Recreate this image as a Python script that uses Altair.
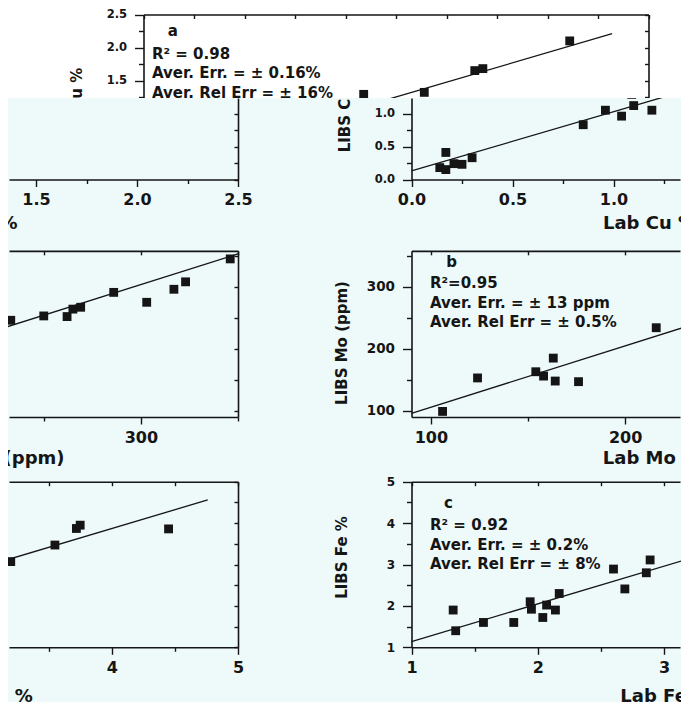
import altair as alt
import pandas as pd

# ---------------- values ----------------
# panel a : Cu
cu_lab = [0.14, 0.17, 0.17, 0.21, 0.25, 0.30, 0.85, 0.96, 1.04, 1.09, 1.10, 1.19, 1.39, 1.64, 1.68, 2.11]
cu_libs = [0.18, 0.41, 0.15, 0.24, 0.23, 0.33, 0.83, 1.05, 0.96, 1.29, 1.12, 1.05, 1.32, 1.65, 1.68, 2.10]
cu_fit_x = [0.0, 2.32]
cu_fit_y = [0.13, 2.21]

# panel b : Mo
mo_lab = [106, 124, 154, 158, 163, 164, 176, 216, 233, 250, 262, 265, 269, 286, 303, 317, 323, 346]
mo_libs = [99, 153, 163, 156, 185, 148, 147, 234, 246, 253, 252, 264, 267, 291, 275, 296, 308, 345]
mo_fit_x = [90, 350]
mo_fit_y = [96, 353]

# panel c : Fe
fe_lab = [1.33, 1.35, 1.57, 1.81, 1.94, 1.95, 2.04, 2.07, 2.14, 2.17, 2.60, 2.69, 2.86, 2.89, 3.20, 3.55, 3.72, 3.75, 4.45]
fe_libs = [1.90, 1.40, 1.60, 1.60, 2.10, 1.92, 1.72, 2.02, 1.90, 2.30, 2.89, 2.41, 2.80, 3.11, 3.07, 3.47, 3.87, 3.95, 3.86]
fe_fit_x = [1.0, 4.76]
fe_fit_y = [1.14, 4.56]

# tick labels
cu_major = [0.0, 0.5, 1.0, 1.5, 2.0, 2.5]
cu_minor = [0.25, 0.75, 1.25, 1.75, 2.25]
mo_major = [100, 200, 300]
mo_minor = [150, 250, 350]
fe_major = [1, 2, 3, 4, 5]
fe_minor = [1.5, 2.5, 3.5, 4.5]

# texts
letters = ["a", "b", "c"]
stats_a = ["R² = 0.98", "Aver. Err. = ± 0.16%", "Aver. Rel Err = ± 16%"]
stats_b = ["R²=0.95", "Aver. Err. = ± 13 ppm", "Aver. Rel Err = ± 0.5%"]
stats_c = ["R² = 0.92", "Aver. Err. = ± 0.2%", "Aver. Rel Err = ± 8%"]
x_titles = ["Lab Cu %", "Lab Mo (ppm)", "Lab Fe %"]
y_titles = ["LIBS Cu %", "LIBS Mo (ppm)", "LIBS Fe %"]

# ---------------- layout / style ----------------
FONT = "DejaVu Sans"
CYAN = "#eefafa"
INK = "#151515"
W = 673
TOP_H = 90
BOT_H = 604
X_MIN, X_MAX = 1.0, 672.0
TIN = 4  # inward tick length
NOTE_FS, XT_FS, YT_FS = 15, 18, 15

# geometry of the original figure panels (pixels per unit, baseline)
PANELS = [
    dict(lab=cu_lab, libs=cu_libs, fx=cu_fit_x, fy=cu_fit_y,
         xdom=(0.0, 2.5), ydom=(0.0, 2.5), kx=202.0, ky=66.0, ybase=179.5,
         xmaj=cu_major, xmin=cu_minor, ymaj=cu_major, ymin=cu_minor, fmt=".1f", ylab=11.5,
         letter=(letters[0], 0.12, 2.25), stats=stats_a, stx=0.042, sty=[1.90, 1.614, 1.318],
         xt=(x_titles[0], 1.178, -0.674), yt=(y_titles[0], -0.327, 1.053)),
    dict(lab=mo_lab, libs=mo_libs, fx=mo_fit_x, fy=mo_fit_y,
         xdom=(90.0, 350.0), ydom=(90.0, 358.0), kx=505.0 / 260.0, ky=0.62, ybase=417.0,
         xmaj=mo_major, xmin=mo_minor, ymaj=mo_major, ymin=mo_minor, fmt="d", ylab=13.5,
         letter=(letters[1], 107.9, 340.5), stats=stats_b, stx=99.5, sty=[305.6, 274.4, 243.7],
         xt=(x_titles[1], 224.6, 22.3), yt=(y_titles[1], 54.0, 209.4)),
    dict(lab=fe_lab, libs=fe_libs, fx=fe_fit_x, fy=fe_fit_y,
         xdom=(1.0, 5.0), ydom=(1.0, 5.0), kx=126.25, ky=41.4, ybase=647.3,
         xmaj=fe_major, xmin=fe_minor, ymaj=fe_major, ymin=fe_minor, fmt="d", ylab=12,
         letter=(letters[2], 1.257, 4.478), stats=stats_c, stx=1.1465, sty=[3.954, 3.471, 3.012],
         xt=(x_titles[2], 3.014, -0.20), yt=(y_titles[2], 0.446, 3.169)),
]


def tick_vals(vals, lo, hi):
    return sorted(v for v in vals if lo - 1e-6 <= v <= hi + 1e-6)


def visible_rows(rows, px, py, view_h, fs, align, rotated=False):
    """Keep only texts whose (approximate) box reaches into the view."""
    kept = []
    for r in rows:
        x, y = px(r[0]), py(r[1])
        w = len(r[2]) * 0.62 * fs
        h = fs
        if rotated:
            w, h = h, w
        if align == "left":
            x1, x2 = x, x + w
        else:
            x1, x2 = x - w / 2, x + w / 2
        y1, y2 = y - h / 2, y + h / 2
        if x2 > 0 and x1 < W and y2 > 0 and y1 < view_h:
            kept.append(r)
    return kept


def panel_copy(p, box_left_sx, view_top_sy, view_h):
    kx, ky = p["kx"], p["ky"]
    x0, x1 = p["xdom"]
    y0, y1 = p["ydom"]
    left = box_left_sx - 8.0
    right = left + (x1 - x0) * kx
    bottom = p["ybase"] - view_top_sy
    top = bottom - (y1 - y0) * ky
    vl, vr = max(left, X_MIN), min(right, X_MAX)
    vt, vb = max(top, 0.0), min(bottom, float(view_h))
    if vr - vl < 2 or vb - vt < 2:
        return None
    x_lo = x0 + (vl - left) / kx
    x_hi = x0 + (vr - left) / kx
    y_lo = y0 + (bottom - vb) / ky
    y_hi = y0 + (bottom - vt) / ky

    def px(v):
        return left + (v - x0) * kx

    def py(v):
        return bottom - (v - y0) * ky

    xs = alt.Scale(domain=[x_lo, x_hi], range=[vl, vr], nice=False, zero=False)
    ys = alt.Scale(domain=[y_lo, y_hi], range=[vb, vt], nice=False, zero=False)
    x_major = tick_vals(p["xmaj"], x_lo, x_hi)
    x_minor = tick_vals(p["xmin"], x_lo, x_hi)
    y_major = tick_vals(p["ymaj"], y_lo, y_hi)
    y_minor = tick_vals(p["ymin"], y_lo, y_hi)
    x_all = sorted(x_major + x_minor)
    y_all = sorted(y_major + y_minor)

    show_left = left >= X_MIN - 0.01
    show_right = right <= X_MAX + 0.01
    show_top = top >= -0.01
    show_bottom = bottom <= view_h + 0.01

    common = dict(title=None, labelOverlap=False, labelFlush=False)
    bottom_axis = alt.Axis(orient="bottom", offset=bottom - view_h, values=x_major, format=p["fmt"],
                           tickSize=7, labelFontSize=16, labelPadding=5, **common) if show_bottom else None
    bottom_minor = alt.Axis(orient="bottom", offset=bottom - view_h, values=x_minor, tickSize=4,
                            labels=False, domain=False, title=None) if (show_bottom and x_minor) else None
    left_axis = alt.Axis(orient="left", offset=-left, values=y_major, format=p["fmt"],
                         tickSize=9, labelFontSize=p["ylab"], labelPadding=8, **common) if show_left else None
    left_minor = alt.Axis(orient="left", offset=-left, values=y_minor, tickSize=5,
                          labels=False, domain=False, title=None) if (show_left and y_minor) else None
    top_spine = alt.Axis(orient="top", offset=-top, ticks=False, labels=False, domain=True,
                         title=None) if show_top else None
    top_ticks = alt.Axis(orient="top", offset=-(top + TIN), values=x_all, ticks=True, tickSize=TIN,
                         labels=False, domain=False, title=None) if show_top else None
    right_spine = alt.Axis(orient="right", offset=right - W, ticks=False, labels=False, domain=True,
                           title=None) if show_right else None
    right_ticks = alt.Axis(orient="right", offset=right - TIN - W, values=y_all, ticks=True, tickSize=TIN,
                           labels=False, domain=False, title=None) if show_right else None

    pts_df = pd.DataFrame({"lab": p["lab"], "libs": p["libs"]})
    fit_df = pd.DataFrame({"fx": p["fx"], "fy": p["fy"]})

    note_rows = [(p["letter"][1], p["letter"][2], p["letter"][0])] + \
        [(p["stx"], yy, s) for yy, s in zip(p["sty"], p["stats"])]
    note_rows = visible_rows(note_rows, px, py, view_h, NOTE_FS, "left")
    xt_rows = visible_rows([(p["xt"][1], p["xt"][2], p["xt"][0])], px, py, view_h, XT_FS, "center")
    yt_rows = visible_rows([(p["yt"][1], p["yt"][2], p["yt"][0])], px, py, view_h, YT_FS, "center",
                           rotated=True)

    def tdf(rows):
        return pd.DataFrame({"tx": [r[0] for r in rows], "ty": [r[1] for r in rows],
                             "t": [r[2] for r in rows]})

    pts = alt.Chart(pts_df).mark_square(size=78, color=INK, opacity=1, clip=True).encode(
        x=alt.X("lab:Q", scale=xs, axis=bottom_axis),
        y=alt.Y("libs:Q", scale=ys, axis=left_axis),
    )
    fit = alt.Chart(fit_df).mark_line(color=INK, strokeWidth=1.3, clip=True).encode(
        x=alt.X("fx:Q", scale=xs, axis=top_spine),
        y=alt.Y("fy:Q", scale=ys, axis=right_spine),
    )
    # invisible copies of the fit layer that only carry the extra tick axes
    ghost_in = alt.Chart(fit_df).mark_line(opacity=0, clip=True).encode(
        x=alt.X("fx:Q", scale=xs, axis=top_ticks),
        y=alt.Y("fy:Q", scale=ys, axis=right_ticks),
    )
    ghost_minor = alt.Chart(fit_df).mark_line(opacity=0, clip=True).encode(
        x=alt.X("fx:Q", scale=xs, axis=bottom_minor),
        y=alt.Y("fy:Q", scale=ys, axis=left_minor),
    )
    layers = [pts, fit, ghost_in, ghost_minor]
    if note_rows:
        layers.append(alt.Chart(tdf(note_rows)).mark_text(
            align="left", baseline="middle", font=FONT, fontWeight="bold",
            fontSize=NOTE_FS, color=INK, clip=True).encode(
            x=alt.X("tx:Q", scale=xs, axis=None),
            y=alt.Y("ty:Q", scale=ys, axis=None),
            text="t:N"))
    if xt_rows:
        layers.append(alt.Chart(tdf(xt_rows)).mark_text(
            align="center", baseline="middle", font=FONT, fontWeight="bold",
            fontSize=XT_FS, color=INK, clip=True).encode(
            x=alt.X("tx:Q", scale=xs, axis=None),
            y=alt.Y("ty:Q", scale=ys, axis=None),
            text="t:N"))
    if yt_rows:
        layers.append(alt.Chart(tdf(yt_rows)).mark_text(
            align="center", baseline="middle", angle=270, font=FONT, fontWeight="bold",
            fontSize=YT_FS, color=INK, clip=True).encode(
            x=alt.X("tx:Q", scale=xs, axis=None),
            y=alt.Y("ty:Q", scale=ys, axis=None),
            text="t:N"))
    return alt.layer(*layers).resolve_axis(x="independent", y="independent")


def view(copies_left_sx, view_top_sy, view_h, fill):
    parts = []
    for box_left in copies_left_sx:
        for p in PANELS:
            c = panel_copy(p, box_left, view_top_sy, view_h)
            if c is not None:
                parts.append(c)
    return alt.layer(*parts).resolve_scale(x="independent", y="independent").properties(
        width=W, height=view_h, view=alt.ViewBackground(fill=fill, stroke=None))


top_view = view([143.5], 8.0, TOP_H, "white")
bottom_view = view([-267.0, 411.5], 8.0 + TOP_H, BOT_H, CYAN)

chart = alt.vconcat(top_view, bottom_view, spacing=0, bounds="flush").properties(
    padding=0
).configure(background="white").configure_view(stroke=None).configure_axis(
    grid=False, domainColor=INK, domainWidth=1.6, tickColor=INK, tickWidth=1.4,
    labelFont=FONT, labelFontWeight="bold", labelColor=INK, labelFlush=False, labelOverlap=False,
)

chart.save("out.html", embed_options={"renderer": "svg", "actions": False})
